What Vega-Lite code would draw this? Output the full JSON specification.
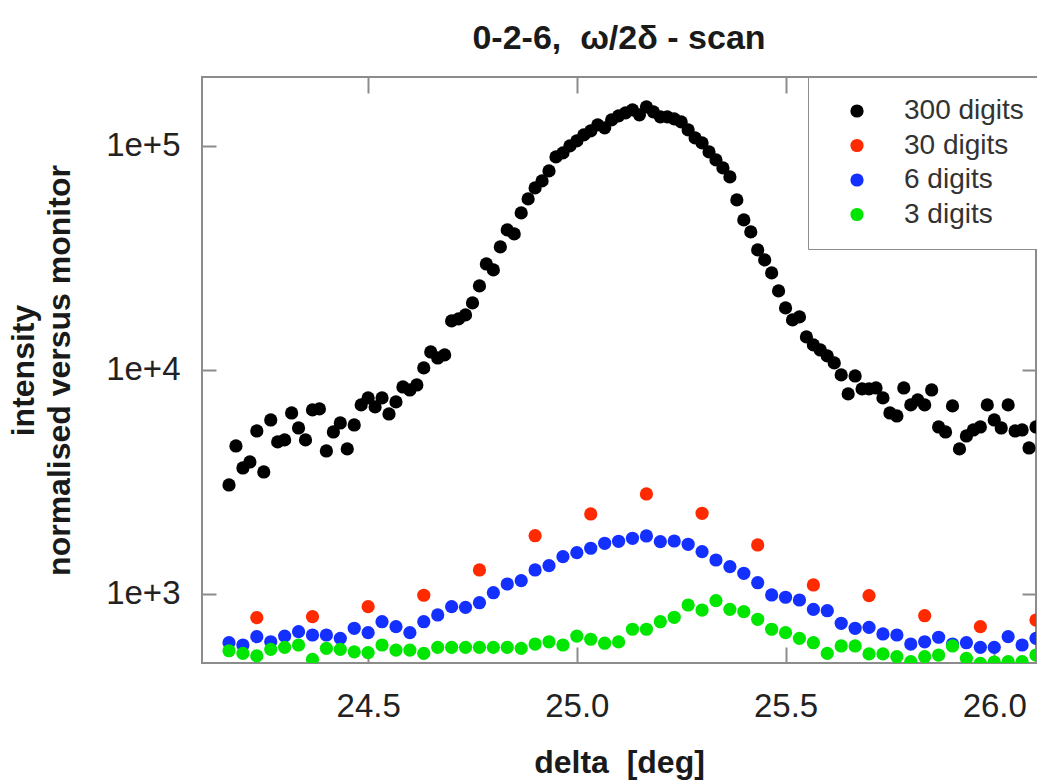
{
"$schema": "https://vega.github.io/schema/vega-lite/v6.json",
"width": 834, "height": 586,
"autosize": "none",
"padding": {"left": 202, "top": 77, "right": 1, "bottom": 117},
"background": "white",
"config": {"font": "Liberation Sans", "view": {"stroke": "#8c8c8c", "strokeWidth": 2}},
"title": {"text": "0-2-6,\u00a0 ω/2δ - scan", "fontSize": 34, "font": "Liberation Sans", "fontWeight": "bold", "color": "#1a1a1a", "offset": -7, "anchor": "middle", "baseline": "alphabetic"},
"datasets": {"pts": [
{"series":"300 digits","delta":24.1667,"value":3066},{"series":"300 digits","delta":24.1833,"value":4578},{"series":"300 digits","delta":24.2,"value":3652},{"series":"300 digits","delta":24.2167,"value":3884},{"series":"300 digits","delta":24.2333,"value":5341},{"series":"300 digits","delta":24.25,"value":3505},{"series":"300 digits","delta":24.2667,"value":5980},{"series":"300 digits","delta":24.2833,"value":4771},{"series":"300 digits","delta":24.3,"value":4870},{"series":"300 digits","delta":24.3167,"value":6427},
{"series":"300 digits","delta":24.3333,"value":5509},{"series":"300 digits","delta":24.35,"value":4870},{"series":"300 digits","delta":24.3667,"value":6629},{"series":"300 digits","delta":24.3833,"value":6698},{"series":"300 digits","delta":24.4,"value":4349},{"series":"300 digits","delta":24.4167,"value":5287},{"series":"300 digits","delta":24.4333,"value":5799},{"series":"300 digits","delta":24.45,"value":4440},{"series":"300 digits","delta":24.4667,"value":5681},{"series":"300 digits","delta":24.4833,"value":6980},
{"series":"300 digits","delta":24.5,"value":7499},{"series":"300 digits","delta":24.5167,"value":6838},{"series":"300 digits","delta":24.5333,"value":7499},{"series":"300 digits","delta":24.55,"value":6361},{"series":"300 digits","delta":24.5667,"value":7197},{"series":"300 digits","delta":24.5833,"value":8395},{"series":"300 digits","delta":24.6,"value":8140},{"series":"300 digits","delta":24.6167,"value":8570},{"series":"300 digits","delta":24.6333,"value":10210},{"series":"300 digits","delta":24.65,"value":12030},
{"series":"300 digits","delta":24.6667,"value":11310},{"series":"300 digits","delta":24.6833,"value":11670},{"series":"300 digits","delta":24.7,"value":16550},{"series":"300 digits","delta":24.7167,"value":16890},{"series":"300 digits","delta":24.7333,"value":17600},{"series":"300 digits","delta":24.75,"value":19910},{"series":"300 digits","delta":24.7667,"value":23710},{"series":"300 digits","delta":24.7833,"value":29720},{"series":"300 digits","delta":24.8,"value":27950},{"series":"300 digits","delta":24.8167,"value":35400},
{"series":"300 digits","delta":24.8333,"value":42170},{"series":"300 digits","delta":24.85,"value":40460},{"series":"300 digits","delta":24.8667,"value":50220},{"series":"300 digits","delta":24.8833,"value":57990},{"series":"300 digits","delta":24.9,"value":64940},{"series":"300 digits","delta":24.9167,"value":69780},{"series":"300 digits","delta":24.9333,"value":77330},{"series":"300 digits","delta":24.95,"value":89320},{"series":"300 digits","delta":24.9667,"value":93060},{"series":"300 digits","delta":24.9833,"value":100000},
{"series":"300 digits","delta":25.0,"value":105270},{"series":"300 digits","delta":25.0167,"value":111970},{"series":"300 digits","delta":25.0333,"value":116660},{"series":"300 digits","delta":25.05,"value":124090},{"series":"300 digits","delta":25.0667,"value":120350},{"series":"300 digits","delta":25.0833,"value":130650},{"series":"300 digits","delta":25.1,"value":136140},{"series":"300 digits","delta":25.1167,"value":140410},{"series":"300 digits","delta":25.1333,"value":144810},{"series":"300 digits","delta":25.15,"value":137550},
{"series":"300 digits","delta":25.1667,"value":149340},{"series":"300 digits","delta":25.1833,"value":141860},{"series":"300 digits","delta":25.2,"value":134750},{"series":"300 digits","delta":25.2167,"value":134750},{"series":"300 digits","delta":25.2333,"value":131990},{"series":"300 digits","delta":25.25,"value":127980},{"series":"300 digits","delta":25.2667,"value":117880},{"series":"300 digits","delta":25.2833,"value":108570},{"series":"300 digits","delta":25.3,"value":103130},{"series":"300 digits","delta":25.3167,"value":94020},
{"series":"300 digits","delta":25.3333,"value":86600},{"series":"300 digits","delta":25.35,"value":79770},{"series":"300 digits","delta":25.3667,"value":72700},{"series":"300 digits","delta":25.3833,"value":57410},{"series":"300 digits","delta":25.4,"value":46730},{"series":"300 digits","delta":25.4167,"value":41320},{"series":"300 digits","delta":25.4333,"value":34340},{"series":"300 digits","delta":25.45,"value":30980},{"series":"300 digits","delta":25.4667,"value":27110},{"series":"300 digits","delta":25.4833,"value":22530},
{"series":"300 digits","delta":25.5,"value":18910},{"series":"300 digits","delta":25.5167,"value":16720},{"series":"300 digits","delta":25.5333,"value":17240},{"series":"300 digits","delta":25.55,"value":14040},{"series":"300 digits","delta":25.5667,"value":12930},{"series":"300 digits","delta":25.5833,"value":12280},{"series":"300 digits","delta":25.6,"value":11550},{"series":"300 digits","delta":25.6167,"value":10750},{"series":"300 digits","delta":25.6333,"value":9500},{"series":"300 digits","delta":25.65,"value":7814},
{"series":"300 digits","delta":25.6667,"value":9400},{"series":"300 digits","delta":25.6833,"value":8226},{"series":"300 digits","delta":25.7,"value":8226},{"series":"300 digits","delta":25.7167,"value":8310},{"series":"300 digits","delta":25.7333,"value":7499},{"series":"300 digits","delta":25.75,"value":6427},{"series":"300 digits","delta":25.7667,"value":6231},{"series":"300 digits","delta":25.7833,"value":8310},{"series":"300 digits","delta":25.8,"value":6980},{"series":"300 digits","delta":25.8167,"value":7346},
{"series":"300 digits","delta":25.8333,"value":6980},{"series":"300 digits","delta":25.85,"value":8140},{"series":"300 digits","delta":25.8667,"value":5566},{"series":"300 digits","delta":25.8833,"value":5287},{"series":"300 digits","delta":25.9,"value":6909},{"series":"300 digits","delta":25.9167,"value":4440},{"series":"300 digits","delta":25.9333,"value":5074},{"series":"300 digits","delta":25.95,"value":5396},{"series":"300 digits","delta":25.9667,"value":5566},{"series":"300 digits","delta":25.9833,"value":6980},
{"series":"300 digits","delta":26.0,"value":5980},{"series":"300 digits","delta":26.0167,"value":5509},{"series":"300 digits","delta":26.0333,"value":6980},{"series":"300 digits","delta":26.05,"value":5341},{"series":"300 digits","delta":26.0667,"value":5396},{"series":"300 digits","delta":26.0833,"value":4485},{"series":"300 digits","delta":26.1,"value":5566},
{"series":"30 digits","delta":24.2333,"value":784},{"series":"30 digits","delta":24.3667,"value":792},{"series":"30 digits","delta":24.5,"value":878},{"series":"30 digits","delta":24.6333,"value":987},{"series":"30 digits","delta":24.7667,"value":1280},{"series":"30 digits","delta":24.9,"value":1820},{"series":"30 digits","delta":25.0333,"value":2276},{"series":"30 digits","delta":25.1667,"value":2795},{"series":"30 digits","delta":25.3,"value":2292},{"series":"30 digits","delta":25.4333,"value":1655},{"series":"30 digits","delta":25.5667,"value":1097},{"series":"30 digits","delta":25.7,"value":983},{"series":"30 digits","delta":25.8333,"value":800},{"series":"30 digits","delta":25.9667,"value":715},{"series":"30 digits","delta":26.1,"value":765},
{"series":"6 digits","delta":24.1667,"value":606},{"series":"6 digits","delta":24.2,"value":592},{"series":"6 digits","delta":24.2333,"value":645},{"series":"6 digits","delta":24.2667,"value":612},{"series":"6 digits","delta":24.3,"value":649},{"series":"6 digits","delta":24.3333,"value":679},{"series":"6 digits","delta":24.3667,"value":656},{"series":"6 digits","delta":24.4,"value":656},{"series":"6 digits","delta":24.4333,"value":634},{"series":"6 digits","delta":24.4667,"value":703},
{"series":"6 digits","delta":24.5,"value":672},{"series":"6 digits","delta":24.5333,"value":752},{"series":"6 digits","delta":24.5667,"value":715},{"series":"6 digits","delta":24.6,"value":672},{"series":"6 digits","delta":24.6333,"value":752},{"series":"6 digits","delta":24.6667,"value":806},{"series":"6 digits","delta":24.7,"value":878},{"series":"6 digits","delta":24.7333,"value":872},{"series":"6 digits","delta":24.7667,"value":914},{"series":"6 digits","delta":24.8,"value":1013},
{"series":"6 digits","delta":24.8333,"value":1108},{"series":"6 digits","delta":24.8667,"value":1147},{"series":"6 digits","delta":24.9,"value":1280},{"series":"6 digits","delta":24.9333,"value":1338},{"series":"6 digits","delta":24.9667,"value":1467},{"series":"6 digits","delta":25.0,"value":1529},{"series":"6 digits","delta":25.0333,"value":1600},{"series":"6 digits","delta":25.0667,"value":1684},{"series":"6 digits","delta":25.1,"value":1719},{"series":"6 digits","delta":25.1333,"value":1773},
{"series":"6 digits","delta":25.1667,"value":1815},{"series":"6 digits","delta":25.2,"value":1712},{"series":"6 digits","delta":25.2333,"value":1724},{"series":"6 digits","delta":25.2667,"value":1667},{"series":"6 digits","delta":25.3,"value":1545},{"series":"6 digits","delta":25.3333,"value":1418},{"series":"6 digits","delta":25.3667,"value":1324},{"series":"6 digits","delta":25.4,"value":1237},{"series":"6 digits","delta":25.4333,"value":1123},{"series":"6 digits","delta":25.4667,"value":990},
{"series":"6 digits","delta":25.5,"value":967},{"series":"6 digits","delta":25.5333,"value":940},{"series":"6 digits","delta":25.5667,"value":854},{"series":"6 digits","delta":25.6,"value":842},{"series":"6 digits","delta":25.6333,"value":740},{"series":"6 digits","delta":25.6667,"value":703},{"series":"6 digits","delta":25.7,"value":710},{"series":"6 digits","delta":25.7333,"value":663},{"series":"6 digits","delta":25.7667,"value":656},{"series":"6 digits","delta":25.8,"value":598},
{"series":"6 digits","delta":25.8333,"value":612},{"series":"6 digits","delta":25.8667,"value":641},{"series":"6 digits","delta":25.9,"value":598},{"series":"6 digits","delta":25.9333,"value":606},{"series":"6 digits","delta":25.9667,"value":578},{"series":"6 digits","delta":26.0,"value":578},{"series":"6 digits","delta":26.0333,"value":645},{"series":"6 digits","delta":26.0667,"value":592},{"series":"6 digits","delta":26.1,"value":634},
{"series":"3 digits","delta":24.1667,"value":558},{"series":"3 digits","delta":24.2,"value":543},{"series":"3 digits","delta":24.2333,"value":529},{"series":"3 digits","delta":24.2667,"value":566},{"series":"3 digits","delta":24.3,"value":578},{"series":"3 digits","delta":24.3333,"value":592},{"series":"3 digits","delta":24.3667,"value":511},{"series":"3 digits","delta":24.4,"value":572},{"series":"3 digits","delta":24.4333,"value":566},{"series":"3 digits","delta":24.4667,"value":552},
{"series":"3 digits","delta":24.5,"value":547},{"series":"3 digits","delta":24.5333,"value":592},{"series":"3 digits","delta":24.5667,"value":562},{"series":"3 digits","delta":24.6,"value":562},{"series":"3 digits","delta":24.6333,"value":543},{"series":"3 digits","delta":24.6667,"value":578},{"series":"3 digits","delta":24.7,"value":578},{"series":"3 digits","delta":24.7333,"value":578},{"series":"3 digits","delta":24.7667,"value":578},{"series":"3 digits","delta":24.8,"value":578},
{"series":"3 digits","delta":24.8333,"value":578},{"series":"3 digits","delta":24.8667,"value":572},{"series":"3 digits","delta":24.9,"value":598},{"series":"3 digits","delta":24.9333,"value":612},{"series":"3 digits","delta":24.9667,"value":592},{"series":"3 digits","delta":25.0,"value":649},{"series":"3 digits","delta":25.0333,"value":628},{"series":"3 digits","delta":25.0667,"value":603},{"series":"3 digits","delta":25.1,"value":611},{"series":"3 digits","delta":25.1333,"value":696},
{"series":"3 digits","delta":25.1667,"value":696},{"series":"3 digits","delta":25.2,"value":752},{"series":"3 digits","delta":25.2333,"value":787},{"series":"3 digits","delta":25.2667,"value":893},{"series":"3 digits","delta":25.3,"value":848},{"series":"3 digits","delta":25.3333,"value":934},{"series":"3 digits","delta":25.3667,"value":854},{"series":"3 digits","delta":25.4,"value":834},{"series":"3 digits","delta":25.4333,"value":771},{"series":"3 digits","delta":25.4667,"value":696},
{"series":"3 digits","delta":25.5,"value":672},{"series":"3 digits","delta":25.5333,"value":634},{"series":"3 digits","delta":25.5667,"value":606},{"series":"3 digits","delta":25.6,"value":543},{"series":"3 digits","delta":25.6333,"value":586},{"series":"3 digits","delta":25.6667,"value":586},{"series":"3 digits","delta":25.7,"value":540},{"series":"3 digits","delta":25.7333,"value":540},{"series":"3 digits","delta":25.7667,"value":525},{"series":"3 digits","delta":25.8,"value":499},
{"series":"3 digits","delta":25.8333,"value":525},{"series":"3 digits","delta":25.8667,"value":534},{"series":"3 digits","delta":25.9,"value":586},{"series":"3 digits","delta":25.9333,"value":516},{"series":"3 digits","delta":25.9667,"value":490},{"series":"3 digits","delta":26.0,"value":497},{"series":"3 digits","delta":26.0333,"value":499},{"series":"3 digits","delta":26.0667,"value":499},{"series":"3 digits","delta":26.1,"value":534}
]},
"data": {"name": "pts"},
"layer": [
{
"mark": {"type": "point", "filled": true, "size": 175, "opacity": 1, "clip": true},
"encoding": {
"x": {"field": "delta", "type": "quantitative", "scale": {"domain": [24.102, 26.1], "nice": false, "zero": false},
 "axis": {"orient": "bottom", "values": [24.5, 25, 25.5, 26], "format": ".1f", "tickSize": -16, "tickColor": "#8c8c8c", "tickWidth": 2, "domain": false, "grid": false, "labelFontSize": 33, "labelColor": "#222222", "labelPadding": 43, "labelFlush": false, "title": "delta\u00a0 [deg]", "titleFontSize": 32, "titleFontWeight": "bold", "titleColor": "#1a1a1a", "titlePadding": 24}},
"y": {"field": "value", "type": "quantitative", "scale": {"type": "log", "domain": [492, 203000], "nice": false},
 "axis": {"orient": "left", "values": [1000, 10000, 100000], "labelExpr": "'1e+' + round(log(datum.value)/LN10)", "tickSize": -14, "tickColor": "#8c8c8c", "tickWidth": 2, "domain": false, "grid": false, "labelFontSize": 33, "labelColor": "#222222", "labelPadding": 36, "labelFlush": false, "title": ["intensity", "normalised versus monitor"], "titleFontSize": 32, "titleFontWeight": "bold", "titleColor": "#1a1a1a", "titleLineHeight": 36, "titlePadding": 29}},
"color": {"field": "series", "type": "nominal", "scale": {"domain": ["300 digits", "30 digits", "6 digits", "3 digits"], "range": ["#000000", "#ff2a00", "#1430ff", "#00e600"]},
 "legend": {"title": null, "orient": "none", "legendX": 606, "legendY": 0, "padding": 20, "strokeColor": "#8c8c8c", "fillColor": "white", "symbolSize": 175, "symbolType": "circle", "symbolOffset": 15, "labelOffset": 33, "labelFontSize": 28, "labelColor": "#333333", "rowPadding": 6.5, "symbolStrokeWidth": 0}}
}
},
{
"mark": {"type": "point", "opacity": 0},
"encoding": {
"x": {"field": "delta", "type": "quantitative", "axis": {"orient": "top", "values": [24.5, 25, 25.5, 26], "tickSize": -16, "tickColor": "#8c8c8c", "tickWidth": 2, "domain": false, "grid": false, "labels": false, "title": null}},
"y": {"field": "value", "type": "quantitative", "axis": {"orient": "right", "values": [1000, 10000, 100000], "tickSize": -14, "tickColor": "#8c8c8c", "tickWidth": 2, "domain": false, "grid": false, "labels": false, "title": null}}
}
}
]
}
